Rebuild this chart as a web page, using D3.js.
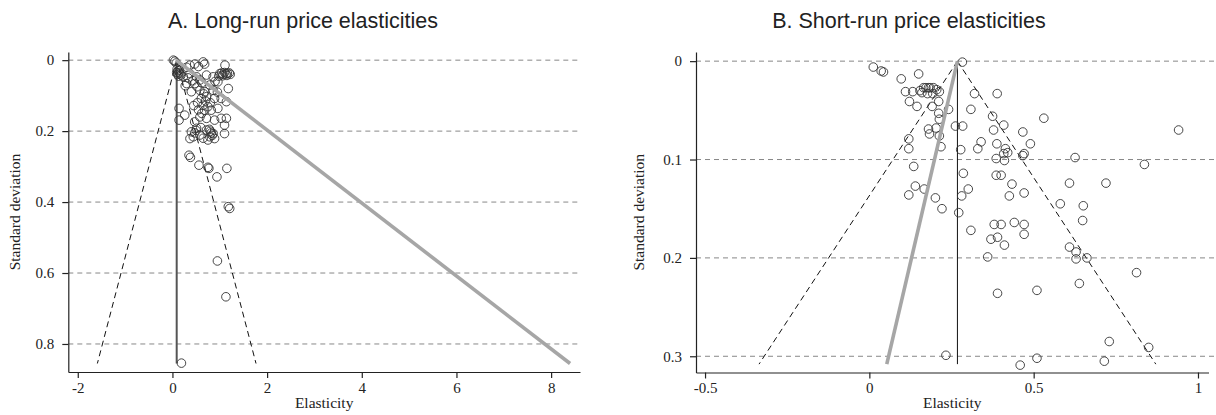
<!DOCTYPE html>
<html>
<head>
<meta charset="utf-8">
<script src="https://cdn.jsdelivr.net/npm/d3@7"></script>
<style>
  body { margin: 0; background: #fff; }
</style>
</head>
<body>
<script>
// panel A: long-run estimates, [elasticity, standard deviation]
var longRun = [
  [0.02,0.000],[0.05,0.003],[0.08,0.008],[0.10,0.025],[0.12,0.030],[0.14,0.035],[0.11,0.040],
  [0.16,0.038],[0.13,0.045],[0.18,0.042],[0.09,0.035],[0.15,0.028],
  [0.37,0.014],[0.47,0.011],[0.65,0.005],[0.68,0.011],[1.11,0.014],[0.30,0.020],[0.55,0.018],
  [1.00,0.038],[1.04,0.036],[1.07,0.040],[1.10,0.035],[1.13,0.039],[1.16,0.037],[1.20,0.036],
  [1.06,0.044],[1.15,0.043],[1.22,0.040],[0.98,0.045],
  [0.23,0.047],[0.37,0.038],[0.51,0.047],[0.30,0.066],[0.47,0.066],[0.58,0.056],[0.72,0.042],
  [0.86,0.047],[0.96,0.061],[0.79,0.070],[1.18,0.080],[0.40,0.089],[0.58,0.085],[0.68,0.089],
  [0.86,0.085],[0.61,0.108],[0.72,0.103],[0.89,0.108],[1.03,0.108],[1.14,0.117],[0.65,0.127],
  [0.75,0.131],[0.68,0.141],[0.82,0.141],[0.96,0.136],[0.58,0.160],[0.72,0.164],[0.89,0.169],
  [1.03,0.164],[1.14,0.164],[0.14,0.136],[0.14,0.169],[0.26,0.155],[0.47,0.174],
  [0.53,0.120],[0.45,0.128],[0.62,0.150],[0.55,0.140],[0.70,0.115],[0.66,0.095],[0.52,0.075],
  [0.43,0.058],[0.90,0.060],[0.95,0.090],[0.33,0.050],[0.27,0.072],[0.62,0.064],[0.80,0.120],
  [0.51,0.192],[0.40,0.202],[0.44,0.216],[0.37,0.221],[0.58,0.211],[0.72,0.197],[0.79,0.216],
  [0.75,0.225],[0.86,0.207],[0.89,0.221],[1.10,0.183],[1.10,0.207],[0.47,0.205],[0.50,0.198],
  [0.80,0.200],[0.82,0.205],[0.78,0.195],[0.84,0.212],[0.60,0.190],[0.65,0.220],
  [0.35,0.268],[0.38,0.274],[0.56,0.296],[0.75,0.302],[0.77,0.305],[0.94,0.329],[1.15,0.305],
  [1.18,0.413],[1.21,0.418],[0.95,0.566],[1.13,0.667],[0.19,0.854]
];

// panel B: short-run estimates, [elasticity, standard deviation]
var shortRun = [
  [0.012,0.006],[0.036,0.010],[0.043,0.011],[0.150,0.013],[0.097,0.018],[0.283,0.001],
  [0.110,0.031],[0.132,0.031],[0.154,0.030],[0.165,0.027],[0.172,0.027],[0.180,0.027],
  [0.185,0.027],[0.195,0.027],[0.205,0.029],[0.213,0.031],[0.177,0.033],[0.193,0.033],[0.160,0.032],
  [0.122,0.041],[0.145,0.046],[0.211,0.041],[0.191,0.046],[0.241,0.049],
  [0.320,0.033],[0.389,0.033],[0.309,0.049],[0.375,0.056],
  [0.211,0.053],[0.213,0.059],[0.180,0.069],[0.183,0.074],[0.203,0.068],[0.213,0.076],
  [0.262,0.066],[0.284,0.066],[0.378,0.070],
  [0.120,0.079],[0.120,0.089],[0.218,0.087],[0.278,0.090],[0.340,0.082],[0.330,0.089],
  [0.388,0.084],[0.386,0.099],
  [0.531,0.058],[0.409,0.065],[0.467,0.072],[0.490,0.084],[0.414,0.089],[0.421,0.093],
  [0.409,0.094],[0.467,0.096],[0.471,0.094],[0.411,0.101],[0.626,0.098],[0.941,0.070],[0.837,0.105],
  [0.135,0.107],[0.286,0.114],[0.386,0.116],[0.401,0.116],
  [0.140,0.127],[0.167,0.130],[0.120,0.136],[0.301,0.130],[0.281,0.137],[0.201,0.139],
  [0.221,0.150],[0.272,0.154],
  [0.434,0.125],[0.426,0.137],[0.471,0.134],[0.609,0.124],[0.720,0.124],[0.581,0.145],
  [0.651,0.147],[0.649,0.162],
  [0.309,0.172],[0.380,0.166],[0.401,0.166],[0.441,0.164],[0.471,0.166],[0.471,0.176],
  [0.370,0.181],[0.390,0.179],[0.411,0.187],[0.360,0.199],
  [0.609,0.189],[0.629,0.194],[0.629,0.201],[0.662,0.200],[0.813,0.215],[0.639,0.226],
  [0.390,0.236],[0.510,0.233],[0.730,0.285],[0.850,0.291],[0.233,0.299],[0.510,0.302],
  [0.459,0.309],[0.715,0.305]
];

var titles = ["A. Long-run price elasticities", "B. Short-run price elasticities"];

var xTicksA = [-2, 0, 2, 4, 6, 8];
var yTicksA = [0, 0.2, 0.4, 0.6, 0.8];
var xTicksB = [-0.5, 0, 0.5, 1];
var yTicksB = [0, 0.1, 0.2, 0.3];

// mean effect, largest standard deviation, and the grey regression line ends
var meanA = 0.09, seMaxA = 0.855;
var petA = [[0.08, 0], [8.4, 0.855]];
var meanB = 0.268, seMaxB = 0.308;
var petB = [[0.268, 0], [0.053, 0.308]];

var width = 1216, height = 415;

var svg = d3.select("body")
  .append("svg")
  .attr("width", width)
  .attr("height", height);

function drawPanel(cfg) {
  var x = d3.scaleLinear().domain(cfg.xDom).range([cfg.left, cfg.right]);
  var y = d3.scaleLinear().domain(cfg.yDom).range([cfg.top, cfg.bottom]);
  var g = svg.append("g");

  g.append("text")
    .attr("x", cfg.titleX)
    .attr("y", 28)
    .attr("text-anchor", "middle")
    .style("font-family", "'Liberation Sans', Arial, sans-serif")
    .style("font-size", "21.5px")
    .style("fill", "#222")
    .text(cfg.title);

  // dashed grid
  g.selectAll(".grid")
    .data(cfg.yTicks)
    .enter().append("line")
    .attr("x1", cfg.left)
    .attr("x2", cfg.gridRight)
    .attr("y1", function(d) { return y(d); })
    .attr("y2", function(d) { return y(d); })
    .style("stroke", "#888")
    .style("stroke-width", 1)
    .style("stroke-dasharray", "5,4");

  var fmt = function(d) { return String(d); };

  var yAxis = g.append("g")
    .attr("transform", "translate(" + cfg.left + ",0)")
    .call(d3.axisLeft(y).tickValues(cfg.yTicks).tickSize(6).tickSizeOuter(0).tickPadding(8).tickFormat(fmt));
  var xAxis = g.append("g")
    .attr("transform", "translate(0," + cfg.bottom + ")")
    .call(d3.axisBottom(x).tickValues(cfg.xTicks).tickSize(6).tickSizeOuter(0).tickPadding(4).tickFormat(fmt));

  [yAxis, xAxis].forEach(function(a) {
    a.selectAll("text")
      .style("font-family", "'Liberation Serif', 'Times New Roman', serif")
      .style("font-size", "15px")
      .style("fill", "#222");
    a.selectAll("path, line").style("stroke", "#222").style("stroke-width", 1.2);
  });

  g.append("text")
    .attr("transform", "translate(" + cfg.yLabelX + "," + ((cfg.top + cfg.bottom) / 2) + ") rotate(-90)")
    .attr("text-anchor", "middle")
    .attr("dy", "0.35em")
    .style("font-family", "'Liberation Serif', 'Times New Roman', serif")
    .style("font-size", "15.5px")
    .style("fill", "#222")
    .text("Standard deviation");

  g.append("text")
    .attr("x", (cfg.left + cfg.right) / 2)
    .attr("y", 408)
    .attr("text-anchor", "middle")
    .style("font-family", "'Liberation Serif', 'Times New Roman', serif")
    .style("font-size", "15.5px")
    .style("fill", "#222")
    .text("Elasticity");

  // funnel
  var funnel = [
    [[cfg.mean, 0], [cfg.mean - 1.96 * cfg.seMax, cfg.seMax]],
    [[cfg.mean, 0], [cfg.mean + 1.96 * cfg.seMax, cfg.seMax]]
  ];
  var line = d3.line()
    .x(function(d) { return x(d[0]); })
    .y(function(d) { return y(d[1]); });

  g.selectAll(".funnel")
    .data(funnel)
    .enter().append("path")
    .attr("d", line)
    .style("fill", "none")
    .style("stroke", "#111")
    .style("stroke-width", 1)
    .style("stroke-dasharray", "6,4");

  g.append("path")
    .attr("d", line([[cfg.mean, 0], [cfg.mean, cfg.seMax]]))
    .style("fill", "none")
    .style("stroke", cfg.meanColor)
    .style("stroke-width", cfg.meanWidth);

  g.selectAll(".pt")
    .data(cfg.points)
    .enter().append("circle")
    .attr("cx", function(d) { return x(d[0]); })
    .attr("cy", function(d) { return y(d[1]); })
    .attr("r", 4.3)
    .style("fill", "none")
    .style("stroke", "#333")
    .style("stroke-width", 0.9);

  g.append("path")
    .attr("d", line(cfg.pet))
    .style("fill", "none")
    .style("stroke", "#a6a6a6")
    .style("stroke-width", 3.6);
}

drawPanel({
  title: titles[0], titleX: 303,
  points: longRun, xTicks: xTicksA, yTicks: yTicksA,
  xDom: [-2.2, 8.61], yDom: [-0.023, 0.879],
  left: 68.3, right: 580, gridRight: 580, top: 52, bottom: 372,
  yLabelX: 15, mean: meanA, seMax: seMaxA, pet: petA,
  meanColor: "#555", meanWidth: 2
});

drawPanel({
  title: titles[1], titleX: 909,
  points: shortRun, xTicks: xTicksB, yTicks: yTicksB,
  xDom: [-0.5275, 1.032], yDom: [-0.0093, 0.3165],
  left: 696, right: 1208.5, gridRight: 1214, top: 52, bottom: 372.5,
  yLabelX: 639, mean: meanB, seMax: seMaxB, pet: petB,
  meanColor: "#111", meanWidth: 1
});
</script>
</body>
</html>
